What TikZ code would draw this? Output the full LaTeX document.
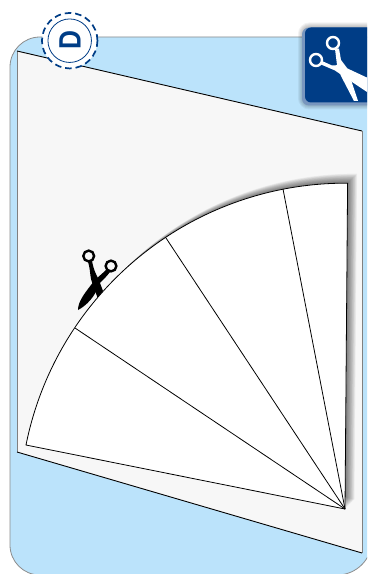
\documentclass[tikz,border=0pt]{standalone}
\usepackage{fontspec}
\setsansfont{Liberation Sans}
\definecolor{panelblue}{RGB}{187,227,251}
\definecolor{paper}{RGB}{247,247,247}
\definecolor{navy}{RGB}{0,61,134}
\definecolor{navylight}{RGB}{120,150,190}
\tikzset{
 panelline/.style={draw=black!45,line width=0.8pt,fill=panelblue},
 sheetedge/.style={black,line width=0.9pt},
 sideedge/.style={black!50,line width=0.9pt},
 cutline/.style={black,line width=0.8pt},
 softshadow/.style={fill=black,fill opacity=0.042},
}
\begin{document}
\begin{tikzpicture}[x=1bp,y=1bp,yscale=-1]
\useasboundingbox (0,0) rectangle (367,574);
\clip (0,0) rectangle (367,574);
\fill[white] (0,0) rectangle (367,574);
% panel
\path[panelline] (40,37) -- (372,37) -- (372,540)
  arc[start angle=0,end angle=90,radius=35] -- (40,575)
  arc[start angle=90,end angle=180,radius=30] -- (10,67)
  arc[start angle=180,end angle=270,radius=30] -- cycle;
% paper sheet
\coordinate (ptl) at (17,51);
\coordinate (ptr) at (362,131);
\coordinate (pbr) at (362,553);
\coordinate (pbl) at (17,452);
\fill[paper] (ptl) -- (ptr) -- (pbr) -- (pbl) -- cycle;
\draw[sideedge] (ptl) -- (pbl);
\draw[sideedge] (ptr) -- (pbr);
\draw[sheetedge] (ptl) -- (ptr);
\draw[sheetedge] (pbl) -- (pbr);
% sector shadow
\coordinate (apex) at (345,509);
\coordinate (sstart) at (26,445);
\coordinate (s1) at (75,328);
\coordinate (s2) at (166,238);
\coordinate (s3) at (283,189);
\foreach \k in {1,...,14}{
  \begin{scope}[shift={({\k*0.68},{-\k*0.68})}]
  \fill[softshadow] (26,445) arc[start angle=191.35,end angle=270.35,radius=326] -- (345,509) -- cycle;
  \end{scope}
}
% black scissors
\draw[black,line width=2.4bp] (88.7,256) circle[radius=5.4];
\draw[black,line width=2.4bp] (111,266) circle[radius=5.4];
\fill[black] (106,270) .. controls (101,275) and (96,278) .. (91,285)
  .. controls (84,294) and (78,302) .. (78,310)
  .. controls (86,306) and (96,296) .. (99,284)
  .. controls (103,280) and (107,276) .. (110,272) -- cycle;
\fill[black] (88,261.5) .. controls (90,268) and (90,274) .. (91,279)
  .. controls (93,286) and (96,293) .. (98,299)
  -- (104,294) .. controls (102,288) and (99,280) .. (96,274)
  .. controls (94,270) and (93,266) .. (92,261) -- cycle;
% sector
\fill[white] (sstart) arc[start angle=191.35,end angle=270.35,radius=326] -- (apex) -- cycle;
\draw[cutline,line join=round] (sstart) arc[start angle=191.35,end angle=270.35,radius=326] -- (apex) -- cycle;
\draw[cutline] (apex) -- (s1);
\draw[cutline] (apex) -- (s2);
\draw[cutline] (apex) -- (s3);
% badge
\node[circle,fill=white,draw=navy,dashed,dash pattern=on 6.5bp off 4bp,line width=1.7bp,minimum size=55.5bp,inner sep=0pt] (badge) at (69.7,40.7) {};
\node[circle,draw=navy,line width=0.8bp,minimum size=43.5bp,inner sep=0pt] (badgein) at (badge) {};
\node[rotate=90,text=navy,inner sep=0pt,xscale=0.85] (dlabel) at (70,40.5) {\fontsize{31}{31}\selectfont\sffamily\bfseries D};
% icon
\foreach \w in {1,3,5,7,9}{
  \draw[draw=black,draw opacity=0.05,line width=\w bp,rounded corners=7bp] (302.5,27) rectangle (380,105);
}
\fill[navylight,rounded corners=7bp] (302,27.5) rectangle (385,105.5);
\fill[navy,rounded corners=6bp] (305,27.5) rectangle (385,102.5);
\draw[white,line width=2.4bp] (333,43) circle[radius=6];
\draw[white,line width=2.4bp] (316,60) circle[radius=6];
\fill[white] (335,49) -- (339,48.5) -- (341,60) -- (347,68) -- (358,101) -- (354,101) -- (341,76) -- (337,65) -- cycle;
\fill[white] (322,61) -- (332,65.5) -- (340,65) -- (370,79) -- (370,94) -- (343,76) -- (335,70.5) -- (321,64.5) -- cycle;
\end{tikzpicture}
\end{document}
